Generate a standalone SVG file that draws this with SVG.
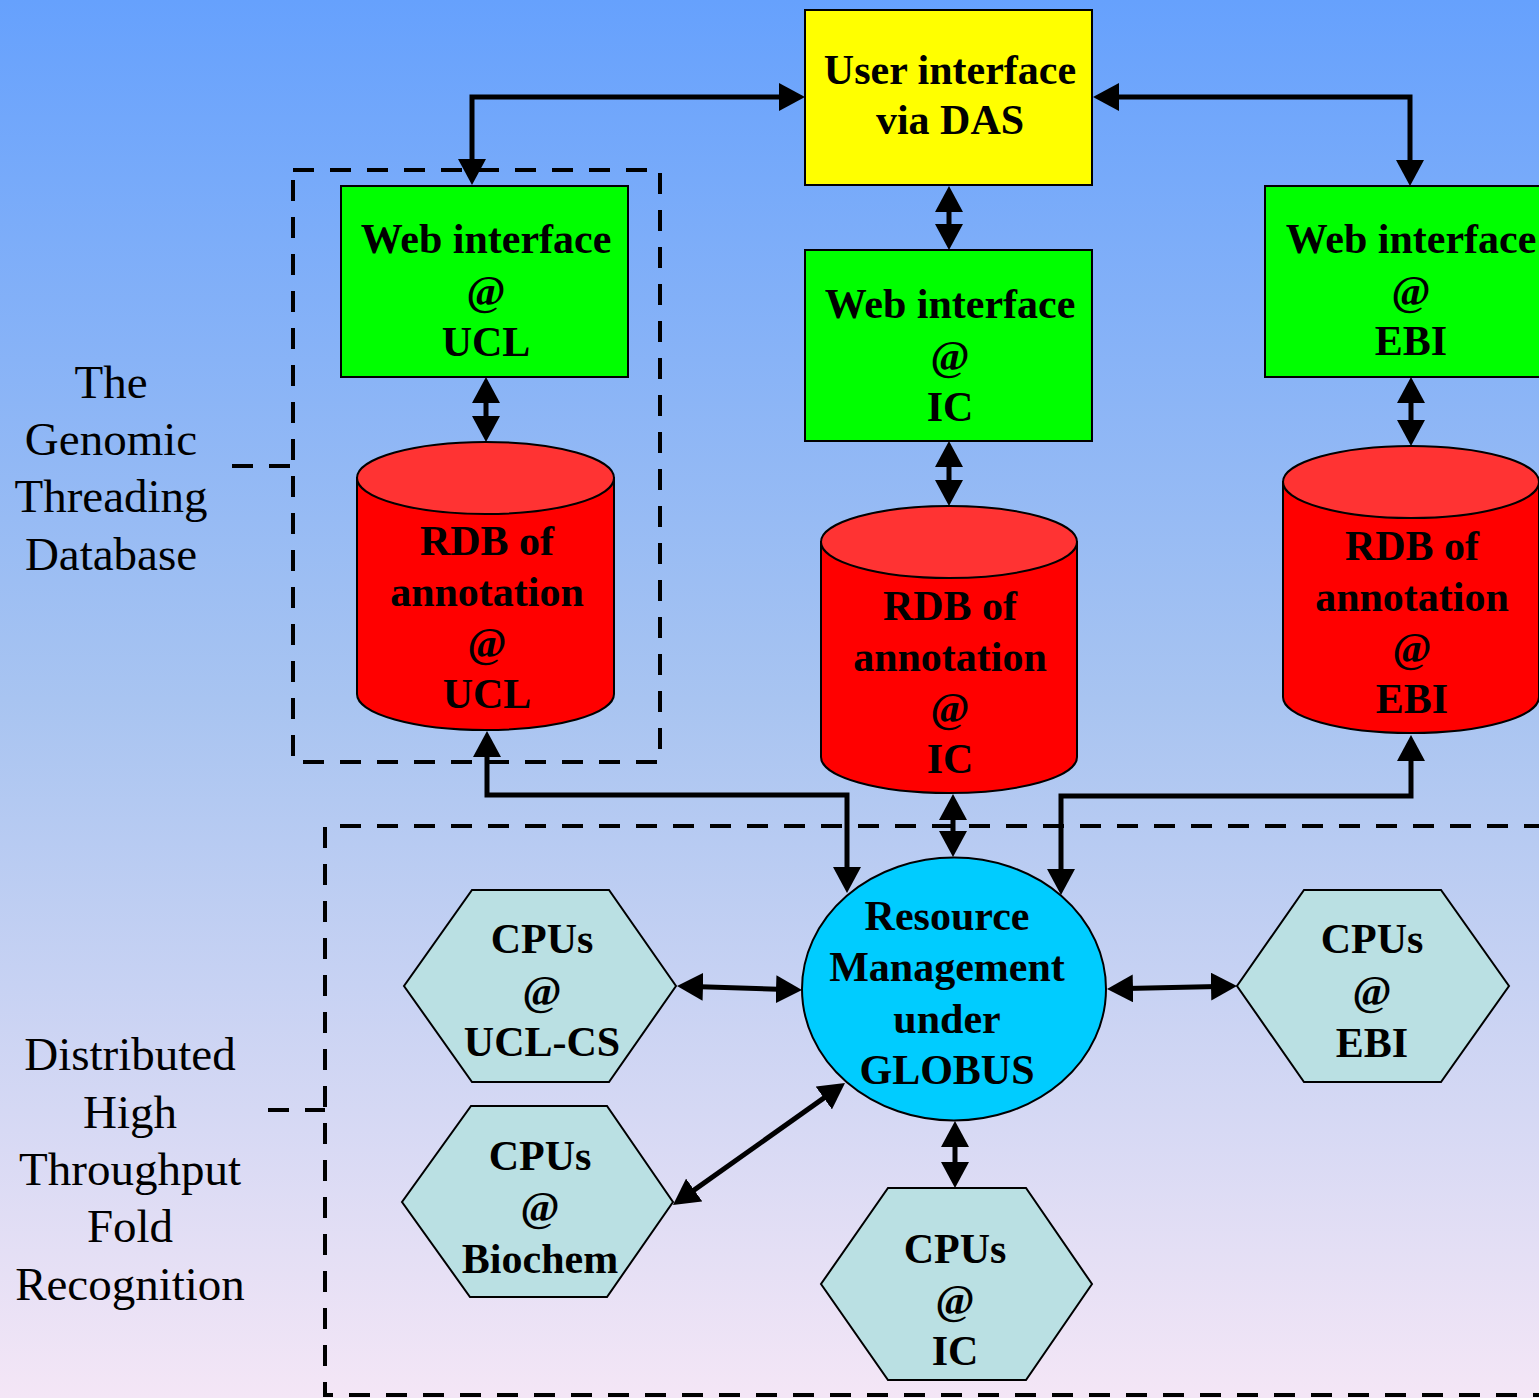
<svg xmlns="http://www.w3.org/2000/svg" width="1539" height="1398" viewBox="0 0 1539 1398">
<defs>
<linearGradient id="bg" x1="0" y1="0" x2="0" y2="1">
<stop offset="0" stop-color="#66a1fd"/>
<stop offset="0.5" stop-color="#a8c4f1"/>
<stop offset="1" stop-color="#f4e6f6"/>
</linearGradient>
<marker id="ah" viewBox="0 0 26 28" markerWidth="26" markerHeight="28" refX="18" refY="14" orient="auto-start-reverse" markerUnits="userSpaceOnUse">
<path d="M0,0 L26,14 L0,28 z" fill="#000"/>
</marker>
<style>
.box{stroke:#000;stroke-width:2}
.web{fill:#00ff00}
.ui{fill:#ffff00}
.cyl{fill:#ff0000}
.cyltop{fill:#ff3333}
.hex{fill:#bae0e3}
.rm{fill:#00ccff}
.t{font-family:"Liberation Serif","Times New Roman",serif;font-weight:bold;font-size:42px;text-anchor:middle;fill:#000}
.lab{font-family:"Liberation Serif","Times New Roman",serif;font-size:47px;text-anchor:middle;fill:#000}
.dash{fill:none;stroke:#000;stroke-width:4;stroke-dasharray:21 16}
.c{fill:none;stroke:#000;stroke-width:5;marker-start:url(#ah);marker-end:url(#ah)}
</style>
</defs>
<rect x="0" y="0" width="1539" height="1398" fill="url(#bg)"/>

<g id="groups">
<rect class="dash" x="293" y="170" width="367" height="592"/>
<line class="dash" x1="232" y1="466" x2="293" y2="466"/>
<path class="dash" d="M1545,826 L325,826 L325,1395 L1545,1395"/>
<line class="dash" x1="268" y1="1110" x2="325" y2="1110"/>
</g>

<g id="label-gtd">
<text class="lab" x="111"><tspan x="111" y="398">The</tspan><tspan x="111" y="455">Genomic</tspan><tspan x="111" y="512">Threading</tspan><tspan x="111" y="570">Database</tspan></text>
</g>
<g id="label-dht">
<text class="lab"><tspan x="130" y="1070">Distributed</tspan><tspan x="130" y="1128">High</tspan><tspan x="130" y="1185">Throughput</tspan><tspan x="130" y="1242">Fold</tspan><tspan x="130" y="1300">Recognition</tspan></text>
</g>

<g id="connectors">
<path class="c" d="M472,177 L472,97 L797,97"/>
<path class="c" d="M1101,97 L1410,97 L1410,178"/>
<line class="c" x1="949" y1="194" x2="949" y2="242"/>
<line class="c" x1="486" y1="385" x2="486" y2="434"/>
<line class="c" x1="949" y1="449" x2="949" y2="498"/>
<line class="c" x1="1411" y1="385" x2="1411" y2="438"/>
<path class="c" d="M487,739 L487,795 L847,795 L847,885"/>
<path class="c" d="M1411,743 L1411,796 L1061,796 L1061,887"/>
<line class="c" x1="953" y1="802" x2="953" y2="849"/>
<line class="c" x1="685" y1="986.3" x2="794" y2="989.7"/>
<line class="c" x1="1115" y1="988.8" x2="1229" y2="986.2"/>
<line class="c" x1="679.5" y1="1200.4" x2="838.5" y2="1087.6"/>
<line class="c" x1="955" y1="1129" x2="955" y2="1180"/>
</g>

<g id="ui">
<rect class="box ui" x="805" y="10" width="287" height="175"/>
<text class="t"><tspan x="950" y="84">User interface</tspan><tspan x="950" y="134">via DAS</tspan></text>
</g>

<g id="web-ucl">
<rect class="box web" x="341" y="186" width="287" height="191"/>
<text class="t"><tspan x="486" y="253">Web interface</tspan><tspan x="486" y="305">@</tspan><tspan x="486" y="356">UCL</tspan></text>
</g>

<g id="web-ic">
<rect class="box web" x="805" y="250" width="287" height="191"/>
<text class="t"><tspan x="950" y="318">Web interface</tspan><tspan x="950" y="370">@</tspan><tspan x="950" y="421">IC</tspan></text>
</g>

<g id="web-ebi">
<rect class="box web" x="1265" y="186" width="290" height="191"/>
<text class="t"><tspan x="1411" y="253">Web interface</tspan><tspan x="1411" y="305">@</tspan><tspan x="1411" y="355">EBI</tspan></text>
</g>

<g id="rdb-ucl">
<path class="box cyl" d="M357,478 L357,694 A128.5,36 0 0 0 614,694 L614,478 Z"/>
<ellipse class="box cyltop" cx="485.5" cy="478" rx="128.5" ry="36"/>
<text class="t"><tspan x="487" y="555">RDB of</tspan><tspan x="487" y="606">annotation</tspan><tspan x="487" y="657">@</tspan><tspan x="487" y="708">UCL</tspan></text>
</g>

<g id="rdb-ic">
<path class="box cyl" d="M821,542 L821,757 A128,36 0 0 0 1077,757 L1077,542 Z"/>
<ellipse class="box cyltop" cx="949" cy="542" rx="128" ry="36"/>
<text class="t"><tspan x="950" y="620">RDB of</tspan><tspan x="950" y="671">annotation</tspan><tspan x="950" y="722">@</tspan><tspan x="950" y="773">IC</tspan></text>
</g>

<g id="rdb-ebi">
<path class="box cyl" d="M1283,482 L1283,697 A128,36 0 0 0 1539,697 L1539,482 Z"/>
<ellipse class="box cyltop" cx="1411" cy="482" rx="128" ry="36"/>
<text class="t"><tspan x="1412" y="560">RDB of</tspan><tspan x="1412" y="611">annotation</tspan><tspan x="1412" y="662">@</tspan><tspan x="1412" y="713">EBI</tspan></text>
</g>

<g id="resource-mgmt">
<ellipse class="box rm" cx="954" cy="989" rx="152" ry="131.5"/>
<text class="t"><tspan x="947" y="930">Resource</tspan><tspan x="947" y="981">Management</tspan><tspan x="947" y="1033">under</tspan><tspan x="947" y="1084">GLOBUS</tspan></text>
</g>

<g id="cpu-uclcs">
<polygon class="box hex" points="472,890 609,890 676,986 609,1082 472,1082 404,986"/>
<text class="t"><tspan x="542" y="953">CPUs</tspan><tspan x="542" y="1005">@</tspan><tspan x="542" y="1056">UCL-CS</tspan></text>
</g>

<g id="cpu-biochem">
<polygon class="box hex" points="471,1106 607,1106 673,1202 607,1297 470,1297 402,1202"/>
<text class="t"><tspan x="540" y="1170">CPUs</tspan><tspan x="540" y="1221">@</tspan><tspan x="540" y="1273">Biochem</tspan></text>
</g>

<g id="cpu-ebi">
<polygon class="box hex" points="1304,890 1441,890 1509,986 1441,1082 1304,1082 1237,986"/>
<text class="t"><tspan x="1372" y="953">CPUs</tspan><tspan x="1372" y="1005">@</tspan><tspan x="1372" y="1057">EBI</tspan></text>
</g>

<g id="cpu-ic">
<polygon class="box hex" points="888,1188 1026,1188 1092,1284 1026,1380 888,1380 821,1284"/>
<text class="t"><tspan x="955" y="1263">CPUs</tspan><tspan x="955" y="1314">@</tspan><tspan x="955" y="1365">IC</tspan></text>
</g>
</svg>
